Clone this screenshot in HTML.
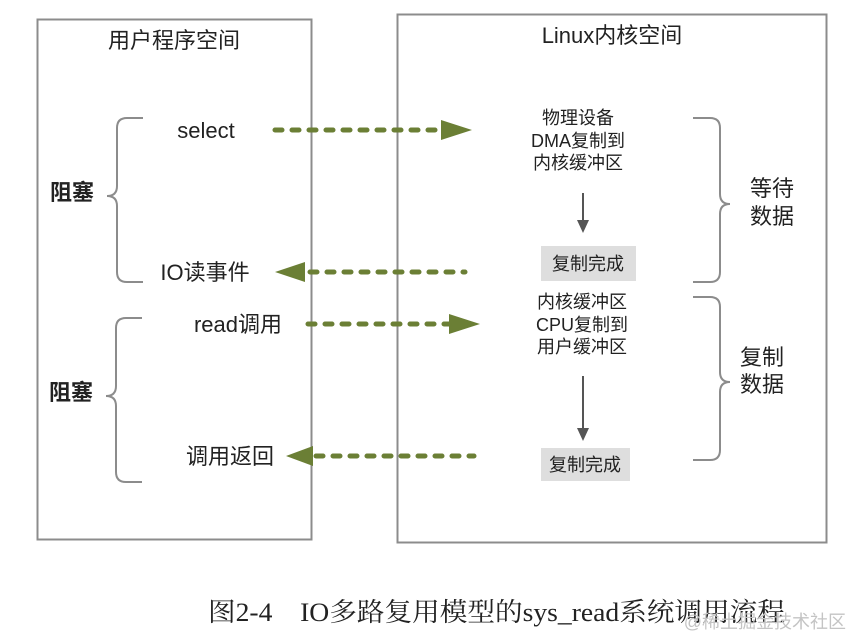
<!DOCTYPE html>
<html><head><meta charset="utf-8"><style>
html,body{margin:0;padding:0;background:#fff;}
svg{display:block;}
text{font-family:"Liberation Sans","Noto Sans CJK SC",sans-serif;fill:#222;}
.serif{font-family:"Liberation Serif","Noto Serif CJK SC",serif;}
</style></head><body>
<svg width="851" height="636" viewBox="0 0 851 636" xmlns="http://www.w3.org/2000/svg">
<rect x="37.5" y="19.5" width="274" height="520" fill="none" stroke="#8c8c8c" stroke-width="2"/>
<rect x="397.5" y="14.5" width="429" height="528" fill="none" stroke="#8c8c8c" stroke-width="2"/>
<text x="174" y="48" font-size="22" text-anchor="middle">用户程序空间</text>
<text x="612" y="43" font-size="22" text-anchor="middle">Linux内核空间</text>

<g fill="none" stroke="#8c8c8c" stroke-width="2">
<path d="M143 118 H127 Q117 118 117 128 V186 Q117 196 107 196 Q117 196 117 206 V272 Q117 282 127 282 H143"/>
<path d="M142 318 H126 Q116 318 116 328 V386 Q116 396 106 396 Q116 396 116 406 V472 Q116 482 126 482 H142"/>
<path d="M693 118 H710 Q720 118 720 128 V194 Q720 204 730 204 Q720 204 720 214 V272 Q720 282 710 282 H693"/>
<path d="M693 297 H710 Q720 297 720 307 V372 Q720 382 730 382 Q720 382 720 392 V450 Q720 460 710 460 H693"/>
</g>
<text x="50" y="200" font-size="22" font-weight="bold">阻塞</text>
<text x="49" y="400" font-size="22" font-weight="bold">阻塞</text>
<text x="750" y="196" font-size="22">等待</text>
<text x="750" y="224" font-size="22">数据</text>
<text x="740" y="365" font-size="22">复制</text>
<text x="740" y="392" font-size="22">数据</text>

<text x="206" y="138" font-size="22" text-anchor="middle">select</text>
<text x="205" y="280" font-size="22" text-anchor="middle">IO读事件</text>
<text x="238" y="332" font-size="22" text-anchor="middle">read调用</text>
<text x="230" y="464" font-size="22" text-anchor="middle">调用返回</text>

<g stroke="#6b7f35" stroke-width="5" stroke-linecap="round" stroke-dasharray="7 10" fill="none">
<line x1="275" y1="130" x2="440" y2="130"/>
<line x1="310" y1="272" x2="465" y2="272"/>
<line x1="308" y1="324" x2="450" y2="324"/>
<line x1="316" y1="456" x2="474" y2="456"/>
</g>
<g fill="#6b7f35">
<polygon points="441,120 472,130 441,140"/>
<polygon points="305,262 275,272 305,282"/>
<polygon points="449,314 480,324 449,334"/>
<polygon points="313,446 286,456 313,466"/>
</g>

<g font-size="18" text-anchor="middle">
<text x="578" y="124">物理设备</text>
<text x="578" y="147">DMA复制到</text>
<text x="578" y="169">内核缓冲区</text>
<text x="582" y="308">内核缓冲区</text>
<text x="582" y="331">CPU复制到</text>
<text x="582" y="353">用户缓冲区</text>
</g>
<g stroke="#555" stroke-width="2"><line x1="583" y1="193" x2="583" y2="222"/><line x1="583" y1="376" x2="583" y2="430"/></g>
<g fill="#555"><polygon points="577,220 589,220 583,233"/><polygon points="577,428 589,428 583,441"/></g>
<rect x="541" y="246" width="95" height="35" fill="#dedede"/>
<rect x="541" y="448" width="89" height="33" fill="#dedede"/>
<text x="588" y="270" font-size="18" text-anchor="middle">复制完成</text>
<text x="585" y="471" font-size="18" text-anchor="middle">复制完成</text>

<text class="serif" x="208" y="621" font-size="26" fill="#111" textLength="577" lengthAdjust="spacingAndGlyphs">图2-4　IO多路复用模型的sys_read系统调用流程</text>
<text x="846" y="628" font-size="18" text-anchor="end" style="fill:#c4c4c4">@稀土掘金技术社区</text>
</svg>
</body></html>
